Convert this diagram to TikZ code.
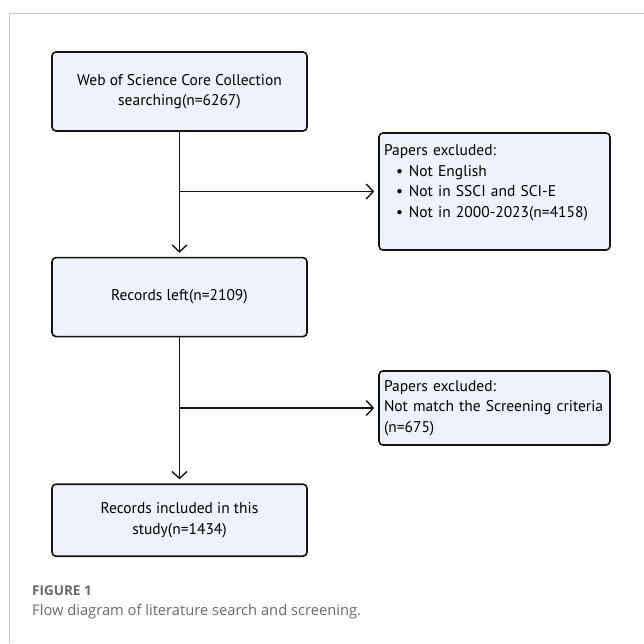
\documentclass[tikz,border=0pt]{standalone}
\usepackage{fontspec}
\setmainfont{PT Sans}
\newfontfamily\captionfont{Open Sans}
\usetikzlibrary{positioning,arrows.meta}
\definecolor{boxfill}{RGB}{237,242,251}
\definecolor{boxline}{RGB}{20,20,20}
\definecolor{framegray}{RGB}{200,200,200}
\definecolor{captiongray}{RGB}{105,105,105}

\begin{document}
\begin{tikzpicture}[
    x=1pt,y=-1pt,
    stage/.style={rectangle,rounded corners=4pt,draw=boxline,fill=boxfill,line width=1.6pt,minimum width=255pt,align=center,font=\fontsize{15.5}{20.5}\selectfont},
    excluded/.style={stage,minimum width=231pt,text width=221pt,align=left},
    flow/.style={-{Straight Barb[length=7pt,width=15pt,line width=1.4pt]},line width=1.4pt,draw=boxline,shorten >=4pt}
]
    \useasboundingbox (0,0) rectangle (644,643);
    \draw[framegray,line width=1pt] (9,643) -- (9,13) -- (644,13);

    \node[stage,minimum height=79pt] (search) at (179.5,91.5) {Web of Science Core Collection\\searching(n=6267)};
    \node[stage,minimum height=79pt,below=125pt of search] (left) {Records left(n=2109)};
    \node[stage,minimum height=72pt,below=146pt of left] (included) {Records included in this\\study(n=1434)};

    \node[excluded,minimum height=117pt] (screen1) at (494.5,191.5) {Papers excluded:\\
        \hspace*{12pt}\makebox[13pt][l]{\textbullet}Not English\\
        \hspace*{12pt}\makebox[13pt][l]{\textbullet}Not in SSCI and SCI-E\\
        \hspace*{12pt}\makebox[13pt][l]{\textbullet}Not in 2000-2023(n=4158)\\
        \mbox{}};
    \node[excluded,minimum height=74pt] (screen2) at (494.5,408) {Papers excluded:\\Not match the Screening criteria\\(n=675)};

    \draw[flow] (search) -- (left);
    \draw[flow] (search.south |- screen1.west) -- (screen1.west);
    \draw[flow] (left) -- (included);
    \draw[flow] (left.south |- screen2.west) -- (screen2.west);

    % caption
    \node[anchor=base west,inner sep=0pt,text=captiongray,font=\captionfont\bfseries\fontsize{13.5}{15}\selectfont] (figlabel) at (32,595) {FIGURE 1};
    \node[anchor=base west,inner sep=0pt,text=captiongray,font=\captionfont\fontsize{14.7}{17}\selectfont] (figtext) at (32,615) {Flow diagram of literature search and screening.};
\end{tikzpicture}
\end{document}
